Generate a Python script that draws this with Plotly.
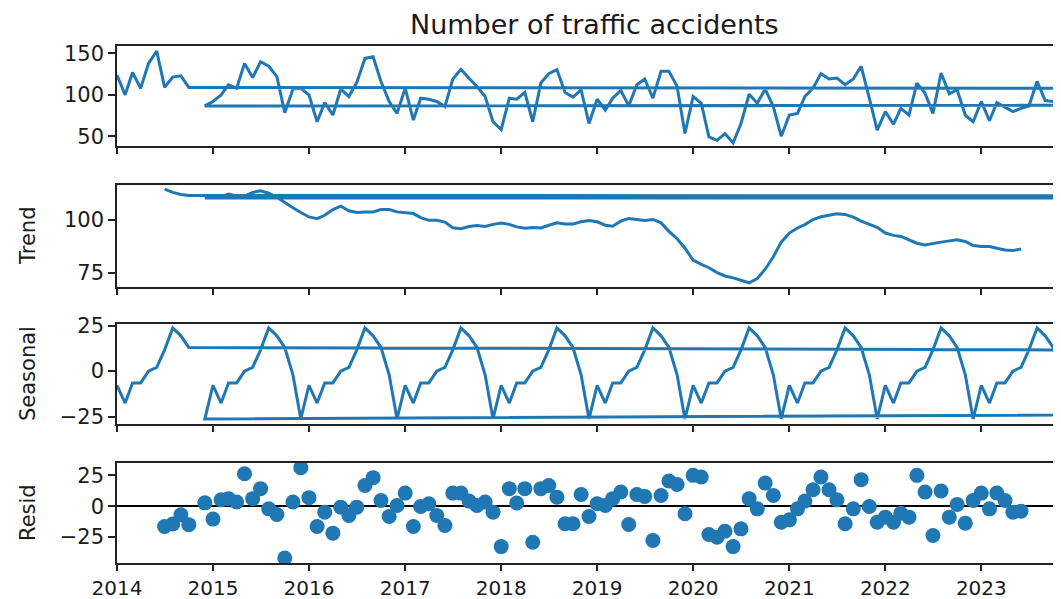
import pandas as pd
import plotly.graph_objects as go

# ---------------- data ----------------
MONTHS = pd.date_range("2014-01-01", "2023-12-01", freq="MS")
FAR_DATE = pd.Timestamp("2114-11-01")   # mis-dated Nov-2014 observation
DATES = [FAR_DATE if (d.year == 2014 and d.month == 11) else d for d in MONTHS]

observed = [
    124, 100, 127, 108, 138, 153, 109, 121.5, 123, 109, 97, 86.6,
    92, 100, 112, 108, 138, 121, 140, 134.5, 122, 78.5, 107, 108,
    100, 67.5, 90.6, 75.6, 107, 98, 115, 144, 146, 116, 92, 77.6,
    108, 69.5, 96, 94.7, 92, 85.8, 119, 131, 120, 110, 98, 67.5,
    58, 96, 94.7, 103, 67.5, 114.5, 125.6, 130.5, 102.8, 97.2, 106, 65.4,
    94.7, 81.7, 96, 105.3, 86.6, 112.2, 119.1, 96, 128.5, 128.5, 110.2, 53.3,
    98, 89.8, 49.2, 45.1, 53.3, 41.9, 65.4, 100.8, 89.8, 106.9, 85.8, 50,
    75.6, 77.6, 98, 108.1, 125.6, 119.1, 120.3, 112.2, 119.1, 134.5, 96, 57.3,
    79.7, 64.6, 83.7, 75.6, 114.2, 102, 77.6, 126.4, 101.2, 106.1, 75.6, 67.5,
    91.9, 68.7, 90.6, 85, 79.7, 83.7, 86.6, 116.3, 93.1, 91.9, 85.8, 78,
]

# trend: Jul-2014 .. Jun-2023
trend = [
    114.5, 112.9, 111.9, 111.4, 110.8, 110.2,
    110.8, 110.8, 112.1, 111.2, 111.2, 112.9, 113.7, 112.5, 110.6, 108, 105.6, 103.4,
    101.3, 100.5, 102.1, 104.8, 106.4, 104.2, 103.4, 103.7, 103.7, 104.8, 104.8, 103.7,
    103.4, 102.9, 101, 99.7, 99.7, 98.9, 96.2, 95.7, 96.8, 97.3, 96.8, 97.8,
    98.4, 97.8, 96.6, 96, 96.3, 96.1, 97.4, 98.5, 98, 98, 99, 99.6,
    99, 97.4, 96.9, 99.3, 100.6, 100.1, 99.6, 100.1, 98.5, 94.5, 91, 86.5,
    80.9, 78.9, 77.3, 75, 73.4, 72.5, 71.4, 70.2, 72.2, 76.6, 82.5, 89.4,
    93.7, 96.1, 97.7, 100.1, 101.4, 102.2, 102.8, 102.5, 101.2, 99.3, 97.7, 96.4,
    93.7, 92.6, 92.1, 90.5, 88.9, 88.1, 88.9, 89.4, 90, 90.5, 89.7, 87.8,
    87.3, 87.3, 86.5, 85.7, 85.4, 86.2,
]

seasonal = [
    -7.8, -17.6, -6.5, -6.5, 0, 2, 11.7, 23.7, 19.4, 13, -2, -26.3,
    -7.8, -17.6, -6.5, -6.5, 0, 2, 11.7, 23.7, 19.4, 13, -2, -26.3,
    -7.8, -17.6, -6.5, -6.5, 0, 2, 11.7, 23.7, 19.4, 13, -2, -26.3,
    -7.8, -17.6, -6.5, -6.5, 0, 2, 11.7, 23.7, 19.4, 13, -2, -26.3,
    -7.8, -17.6, -6.5, -6.5, 0, 2, 11.7, 23.7, 19.4, 13, -2, -26.3,
    -7.8, -17.6, -6.5, -6.5, 0, 2, 11.7, 23.7, 19.4, 13, -2, -26.3,
    -7.8, -17.6, -6.5, -6.5, 0, 2, 11.7, 23.7, 19.4, 13, -2, -26.3,
    -7.8, -17.6, -6.5, -6.5, 0, 2, 11.7, 23.7, 19.4, 13, -2, -26.3,
    -7.8, -17.6, -6.5, -6.5, 0, 2, 11.7, 23.7, 19.4, 13, -2, -26.3,
    -7.8, -17.6, -6.5, -6.5, 0, 2, 11.7, 23.7, 19.4, 13, -2, -26.3,
]

# residuals: Jul-2014 .. Jun-2023
resid = [
    -16.5, -14.5, -7, -15, -21.8, 2.7,
    -10.5, 5.2, 6.1, 3.4, 26.3, 6.1, 14.2, -2.2, -6.8, -42, 3.4, 31.2,
    6.9, -16.5, -4.9, -21.9, -0.8, -7.6, -0.8, 16.8, 23.1, 4.6, -8.4, 0.5,
    10.6, -16.5, -0.3, 1.9, -7.6, -15.7, 10.6, 10.6, 4.1, 0.5, 3.4, -4.9,
    -32.8, 14.2, 2.5, 14.2, -29.3, 14.2, 16.8, 7.3, -14.3, -14.3, 9.5, -8.4,
    1.9, 0.5, 6.1, 11.5, -14.9, 9.5, 7.9, -27.9, 8.7, 20.4, 17.6, -6.2,
    25, 23.6, -23, -25.2, -20.3, -32.8, -18.4, 6.1, -2.2, 18.7, 8.7, -13,
    -11.1, -2.2, 4.1, 13.3, 23.6, 13.3, 5.2, -14.3, -2.2, 21.5, -0.3, -13,
    -8.9, -13, -5.7, -8.9, 25, 11.5, -23.8, 12.3, -8.9, 1.4, -13.8, 4.6,
    10.6, -2.2, 10.6, 4.6, -4.9, -4.1,
]

TITLE = "Number of traffic accidents"
YEAR_TICKS = [pd.Timestamp(f"{y}-01-01") for y in range(2014, 2024)]
YEAR_LABELS = [str(y) for y in range(2014, 2024)]

# ---------------- layout helpers ----------------
OFF = 8                    # page body margin of the html page
PAGE_W, PAGE_H = 1061, 599
W, H = PAGE_W - OFF, PAGE_H - OFF
LEFT = 117 - OFF
BLUE = "#1f77b4"
FONT = "DejaVu Sans"
XRANGE = ["2014-01-01", "2023-10-31"]

# panel page-pixel extents (top, bottom)
panels = [(46, 146), (185, 287), (324, 424), (463, 563)]
yranges = [[38.2, 159], [68.2, 116.4], [-29.1, 25.9], [-46.1, 35]]
yticks = [[50, 100, 150], [75, 100], [-25, 0, 25], [-25, 0, 25]]
ylabels = [None, "Trend", "Seasonal", "Resid"]


def py(page_y):
    return 1 - (page_y - OFF) / H


def px(page_x):
    return (page_x - OFF - LEFT) / (W - LEFT)


fig = go.Figure()

trend_dates = DATES[6:6 + len(trend)]
resid_dates = DATES[6:6 + len(resid)]

LW = 3
fig.add_trace(go.Scatter(x=DATES, y=observed, mode="lines",
                         line=dict(color=BLUE, width=LW), xaxis="x", yaxis="y"))
fig.add_trace(go.Scatter(x=trend_dates, y=trend, mode="lines",
                         line=dict(color=BLUE, width=LW), xaxis="x2", yaxis="y2"))
fig.add_trace(go.Scatter(x=DATES, y=seasonal, mode="lines",
                         line=dict(color=BLUE, width=LW), xaxis="x3", yaxis="y3"))
fig.add_trace(go.Scatter(x=resid_dates, y=resid, mode="markers",
                         marker=dict(color=BLUE, size=15), xaxis="x4", yaxis="y4"))

layout = dict(
    width=W, height=H,
    margin=dict(l=LEFT, r=0, t=0, b=0, autoexpand=False),
    paper_bgcolor="white", plot_bgcolor="white",
    showlegend=False,
    font=dict(family=FONT, size=21, color="black"),
)

tick_font = dict(family=FONT, size=21, color="#1a1a1a")
xtick_font = dict(family=FONT, size=20, color="#1a1a1a")
for i, ((top, bot), yr, yt) in enumerate(zip(panels, yranges, yticks), start=1):
    sfx = "" if i == 1 else str(i)
    dom = [py(bot), py(top)]
    layout["xaxis" + sfx] = dict(
        domain=[0, 1], range=XRANGE, anchor="y" + sfx, type="date",
        automargin=False,
        showline=True, mirror=True, linecolor="#222", linewidth=1.6,
        ticks="outside", ticklen=6, tickwidth=1.6, tickcolor="#222",
        tickvals=YEAR_TICKS, ticktext=YEAR_LABELS,
        showticklabels=(i == 4), tickfont=xtick_font,
        showgrid=False, zeroline=False,
    )
    layout["yaxis" + sfx] = dict(
        domain=dom, range=yr, anchor="x" + sfx, automargin=False,
        showline=True, linecolor="#222", linewidth=1.6,
        ticks="outside", ticklen=7, tickwidth=1.6, tickcolor="#222",
        tickvals=yt, ticktext=[str(v).replace("-", "\u2212") for v in yt],
        tickfont=tick_font, showgrid=False,
        zeroline=(i == 4), zerolinecolor="black", zerolinewidth=2.4,
    )

fig.update_layout(**layout)

annotations = [dict(
    text=TITLE, xref="paper", yref="paper",
    x=px(594), y=py(24),
    xanchor="center", yanchor="middle", showarrow=False,
    font=dict(family=FONT, size=27, color="#1a1a1a"),
)]
for (top, bot), lab in zip(panels, ylabels):
    if lab is None:
        continue
    annotations.append(dict(
        text=lab, xref="paper", yref="paper",
        x=px(28), y=py((top + bot) / 2),
        xanchor="center", yanchor="middle", textangle=-90, showarrow=False,
        font=dict(family=FONT, size=21, color="#1a1a1a"),
    ))
fig.update_layout(annotations=annotations)

fig.write_html("out.html")
